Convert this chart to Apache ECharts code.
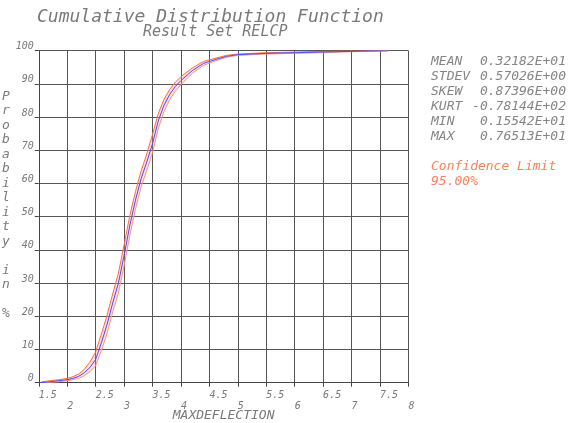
<!DOCTYPE html>
<html><head><meta charset="utf-8">
<script src="https://cdn.jsdelivr.net/npm/echarts@6/dist/echarts.min.js"></script>
<style>html,body{margin:0;padding:0;background:#fff}#c{width:575px;height:423px}</style>
</head><body><div id="c"></div>
<script>
const xs = [1.55,1.7,1.85,2.0,2.1,2.2,2.3,2.4,2.5,2.6,2.7,2.8,2.9,3.0,3.1,3.2,3.3,3.4,3.5,3.6,3.7,3.8,3.9,4.0,4.2,4.4,4.6,4.8,5.0,5.5,6.0,6.5,7.0,7.65];
const center = [0.0,0.3,0.6,0.9,1.3,1.9,3.0,4.6,7.0,12.0,17.5,24.0,30.0,38.3,47.3,55.0,61.5,66.5,72.0,78.8,83.5,86.8,89.2,91.0,94.0,96.2,97.3,98.3,98.8,99.2,99.4,99.6,99.8,100];
const upper = [0.3,0.6,0.9,1.3,1.8,2.6,4.0,6.2,9.3,14.6,20.3,26.8,33.0,41.5,50.3,57.6,63.8,69.0,74.8,81.0,85.3,88.3,90.5,92.2,94.8,96.8,97.7,98.6,99.0,99.4,99.6,99.8,99.9,100];
const lower = [0.0,0.1,0.3,0.6,0.9,1.3,2.1,3.3,5.1,9.6,14.8,21.3,27.0,35.2,44.3,52.3,59.0,64.0,69.3,76.5,81.6,85.2,87.8,89.8,93.2,95.6,96.9,98.0,98.6,99.0,99.2,99.4,99.7,100];
const statNames = ['MEAN','STDEV','SKEW','KURT','MIN','MAX'];
const statValues = ['0.32182E+01','0.57026E+00','0.87396E+00','-0.78144E+02','0.15542E+01','0.76513E+01'];
const titleText = 'Cumulative Distribution Function';
const subtitleText = 'Result Set RELCP';
const xName = 'MAXDEFLECTION';
const yName = 'Probability in %';
const confText = ['Confidence Limit','95.00%'];

const F = 'DejaVu Sans Mono';
const G = '#7a7a7a';
const pair = a => xs.map((x,i)=>[x,a[i]]);

const graphics = [];
graphics.push({type:'text', top:8, left:37, style:{text:titleText, font:'italic 18px '+F, fill:G}});
graphics.push({type:'text', top:25, left:143, style:{text:subtitleText, font:'italic 15px '+F, fill:G}});
graphics.push({type:'text', top:89, left:2, style:{text:yName.split('').map(c=>c===' '?'':c).join('\n'), font:'italic 13px '+F, fill:G, lineHeight:14.5, align:'center', width:14}});
statNames.forEach((n,i)=>{
  graphics.push({type:'text', left:431, top:55+i*15, style:{text:n, font:'italic 13px '+F, fill:'#858585'}});
  graphics.push({type:'text', right:9, top:55+i*15, style:{text:statValues[i], font:'italic 13px '+F, fill:'#858585', align:'right'}});
});
confText.forEach((t,i)=>{
  graphics.push({type:'text', left:431, top:160+i*15, style:{text:t, font:'italic 13px '+F, fill:'#ff8060'}});
});

const bandData = xs.map((x,i)=>[x, lower[i], upper[i]]);

const chart = echarts.init(document.getElementById('c'));
chart.setOption({
  animation:false,
  backgroundColor:'#fff',
  grid:{left:38.8, right:166.6, top:50.7, bottom:40.3, containLabel:false, outerBoundsMode:'none'},
  xAxis:{type:'value', min:1.5, max:8, interval:0.5,
    name:xName, nameLocation:'middle', nameGap:33, nameMoveOverlap:false,
    nameTextStyle:{fontFamily:F, fontStyle:'italic', fontSize:13, color:G, verticalAlign:'middle', lineHeight:13},
    axisLine:{lineStyle:{color:'#444', width:1}},
    axisTick:{show:true, length:4, lineStyle:{color:'#444'}},
    axisLabel:{fontFamily:F, fontStyle:'italic', fontSize:10, color:G, align:'left', margin:7, lineHeight:11, showMaxLabel:true,
      formatter:v=> (Math.abs(v-Math.round(v))<1e-6) ? '\n'+Math.round(v) : v.toFixed(1)},
    splitLine:{show:true, lineStyle:{color:'#555', width:1}}
  },
  yAxis:{type:'value', min:0, max:100, interval:10,
    axisLine:{show:true, lineStyle:{color:'#444'}},
    axisTick:{show:true, length:4, lineStyle:{color:'#444'}},
    axisLabel:{fontFamily:F, fontStyle:'italic', fontSize:10, color:G, margin:5, verticalAlign:'bottom', lineHeight:8},
    splitLine:{show:true, lineStyle:{color:'#555', width:1}}
  },
  graphic:graphics,
  series:[
    {type:'custom', data:bandData, silent:true, encode:{x:0, y:[1,2]},
      renderItem:(params, api)=>{
        if (params.dataIndex !== 0) return null;
        const top = [], bot = [];
        for (let i=0;i<bandData.length;i++){
          top.push(api.coord([bandData[i][0], bandData[i][2]]));
          bot.unshift(api.coord([bandData[i][0], bandData[i][1]]));
        }
        return {type:'polygon', shape:{points:top.concat(bot)}, style:{fill:'rgba(255,150,130,0.3)'}};
      }},
    {type:'line', data:pair(upper), symbol:'none', lineStyle:{color:'#ff6a4a', width:1}},
    {type:'line', data:pair(lower), symbol:'none', lineStyle:{color:'#ff9478', width:1}},
    {type:'line', data:pair(center), symbol:'none', lineStyle:{color:'#4a4aff', width:1}}
  ]
});
</script></body></html>
